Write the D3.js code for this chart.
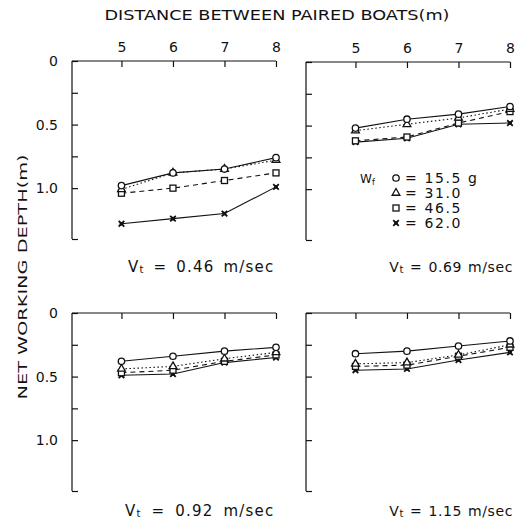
<!DOCTYPE html>
<html>
<head>
  <meta charset="utf-8">
  <title>net working depth</title>
  <style>
    body {margin:0; background:#fff;}
    svg text {font-family: "DejaVu Sans", sans-serif; fill:#111;}
    .axis line, .axis path {stroke:#111; stroke-width:1.2; fill:none;}
    .ser {fill:none; stroke:#111; stroke-width:1.1;}
  </style>
</head>
<body>
<script src="https://cdn.jsdelivr.net/npm/d3@7"></script>
<script>
  // distance between paired boats (m)
  var distances = [5, 6, 7, 8];
  var depthTicks = [0, 0.25, 0.5, 0.75, 1.0, 1.4];
  var depthLabels = {0: '0', 0.5: '0.5', 1: '1.0'};
  var speeds = ['0.46', '0.69', '0.92', '1.15'];

  // net working depth, one row per panel (Vt)
  var wf155 = [[0.98, 0.88, 0.85, 0.76], [0.52, 0.45, 0.41, 0.35], [0.38, 0.34, 0.30, 0.27], [0.32, 0.30, 0.26, 0.22]];
  var wf310 = [[1.01, 0.88, 0.85, 0.78], [0.54, 0.49, 0.44, 0.37], [0.44, 0.42, 0.36, 0.31], [0.40, 0.39, 0.33, 0.25]];
  var wf465 = [[1.04, 1.00, 0.94, 0.88], [0.62, 0.59, 0.48, 0.39], [0.47, 0.45, 0.38, 0.33], [0.42, 0.41, 0.34, 0.27]];
  var wf620 = [[1.28, 1.24, 1.20, 0.99], [0.63, 0.60, 0.49, 0.48], [0.49, 0.48, 0.39, 0.35], [0.45, 0.44, 0.37, 0.31]];

  var series = [
    {name: '15.5 g', vals: wf155, sym: 'circle', dash: null},
    {name: '31.0',   vals: wf310, sym: 'triangle', dash: '1.5,2.5'},
    {name: '46.5',   vals: wf465, sym: 'square', dash: '5,4'},
    {name: '62.0',   vals: wf620, sym: 'star', dash: null}
  ];

  var width = 518, height = 530,
      pw = 204, ph = 178;

  var panels = [
    {x: 72, y: 61, xlab: true, ylab: true, ly: 272, lx: 128, anchor: 'start', fs: 15, ls: 1.2, ws: 3},
    {x: 306, y: 62, xlab: true, ylab: false, ly: 272, lx: 513, anchor: 'end', fs: 14, ls: 0.6, ws: 1},
    {x: 72, y: 313, xlab: false, ylab: true, ly: 516, lx: 125, anchor: 'start', fs: 15, ls: 1.2, ws: 4},
    {x: 306, y: 313, xlab: false, ylab: false, ly: 516, lx: 513, anchor: 'end', fs: 14, ls: 0.6, ws: 1}
  ];

  var svg = d3.select('body').append('svg')
    .attr('width', width)
    .attr('height', height);

  svg.append('text')
    .attr('x', 277).attr('y', 20)
    .attr('text-anchor', 'middle')
    .attr('font-size', 14)
    .attr('textLength', 345)
    .attr('lengthAdjust', 'spacingAndGlyphs')
    .text('DISTANCE BETWEEN PAIRED BOATS(m)');

  svg.append('text')
    .attr('transform', 'translate(27,277) rotate(-90)')
    .attr('text-anchor', 'middle')
    .attr('font-size', 13)
    .attr('textLength', 245)
    .attr('lengthAdjust', 'spacingAndGlyphs')
    .text('NET WORKING DEPTH(m)');

  var x = d3.scaleLinear().domain([4.04, 8]).range([0, pw]);
  var y = d3.scaleLinear().domain([0, 1.4]).range([0, ph]);

  function marker(g, sym, px, py){
    if(sym == 'circle'){
      g.append('circle').attr('cx', px).attr('cy', py).attr('r', 3.2)
        .attr('fill', '#fff').attr('stroke', '#111').attr('stroke-width', 1.3);
    } else if(sym == 'triangle'){
      g.append('path').attr('d', d3.symbol(d3.symbolTriangle, 26)())
        .attr('transform', 'translate(' + px + ',' + py + ')')
        .attr('fill', '#fff').attr('stroke', '#111').attr('stroke-width', 1.3);
    } else if(sym == 'square'){
      g.append('rect').attr('x', px - 3).attr('y', py - 3).attr('width', 6).attr('height', 6)
        .attr('fill', '#fff').attr('stroke', '#111').attr('stroke-width', 1.3);
    } else {
      g.append('path').attr('d', d3.symbol(d3.symbolX, 22)())
        .attr('transform', 'translate(' + px + ',' + py + ')')
        .attr('stroke', '#111').attr('stroke-width', 1.8);
      g.append('rect').attr('x', px - 1.8).attr('y', py - 1.8).attr('width', 3.6).attr('height', 3.6).attr('fill', '#111');
    }
  }

  panels.forEach(function(p, i){
    var g = svg.append('g').attr('transform', 'translate(' + p.x + ',' + p.y + ')');

    var top = g.append('g').attr('class', 'axis')
      .call(d3.axisTop(x).tickValues(distances).tickSize(-6).tickPadding(9)
        .tickFormat(p.xlab ? d3.format('d') : function(){ return ''; }));
    top.select('.domain').attr('d', 'M0,0H' + pw);
    top.selectAll('text').attr('font-size', 14).attr('fill', '#111').attr('font-family', '"DejaVu Sans", sans-serif');

    var left = g.append('g').attr('class', 'axis')
      .call(d3.axisLeft(y).tickValues(depthTicks).tickSize(-6).tickPadding(14)
        .tickFormat(function(d){ return p.ylab && depthLabels[d] !== undefined ? depthLabels[d] : ''; }));
    left.select('.domain').attr('d', 'M0,0V' + ph);
    left.selectAll('text').attr('font-size', 14).attr('fill', '#111').attr('font-family', '"DejaVu Sans", sans-serif');

    var line = d3.line().x(function(d, j){ return x(distances[j]); }).y(function(d){ return y(d); });

    series.forEach(function(s){
      g.append('path').attr('class', 'ser')
        .attr('d', line(s.vals[i]))
        .attr('stroke-dasharray', s.dash);
    });
    series.slice().reverse().forEach(function(s){
      s.vals[i].forEach(function(v, j){ marker(g, s.sym, x(distances[j]), y(v)); });
    });

    var lab = svg.append('text')
      .attr('x', p.lx).attr('y', p.ly)
      .attr('text-anchor', p.anchor)
      .attr('font-size', p.fs)
      .attr('letter-spacing', p.ls)
      .attr('word-spacing', p.ws);
    lab.append('tspan').text('V');
    lab.append('tspan').attr('font-size', 10).attr('dy', 1).text('t');
    lab.append('tspan').attr('dy', -1).text(' = ' + speeds[i] + ' m/sec');
  });

  // legend
  var leg = svg.append('g');
  leg.append('text').attr('x', 360).attr('y', 183).attr('font-size', 12).text('W');
  leg.append('text').attr('x', 372).attr('y', 185).attr('font-size', 8).text('f');
  series.forEach(function(s, k){
    var ly = 178 + k * 15;
    marker(leg, s.sym, 396, ly);
    leg.append('text').attr('x', 405).attr('y', ly + 5).attr('font-size', 14)
      .attr('letter-spacing', 1.6).text('= ' + s.name);
  });
</script>
</body>
</html>
